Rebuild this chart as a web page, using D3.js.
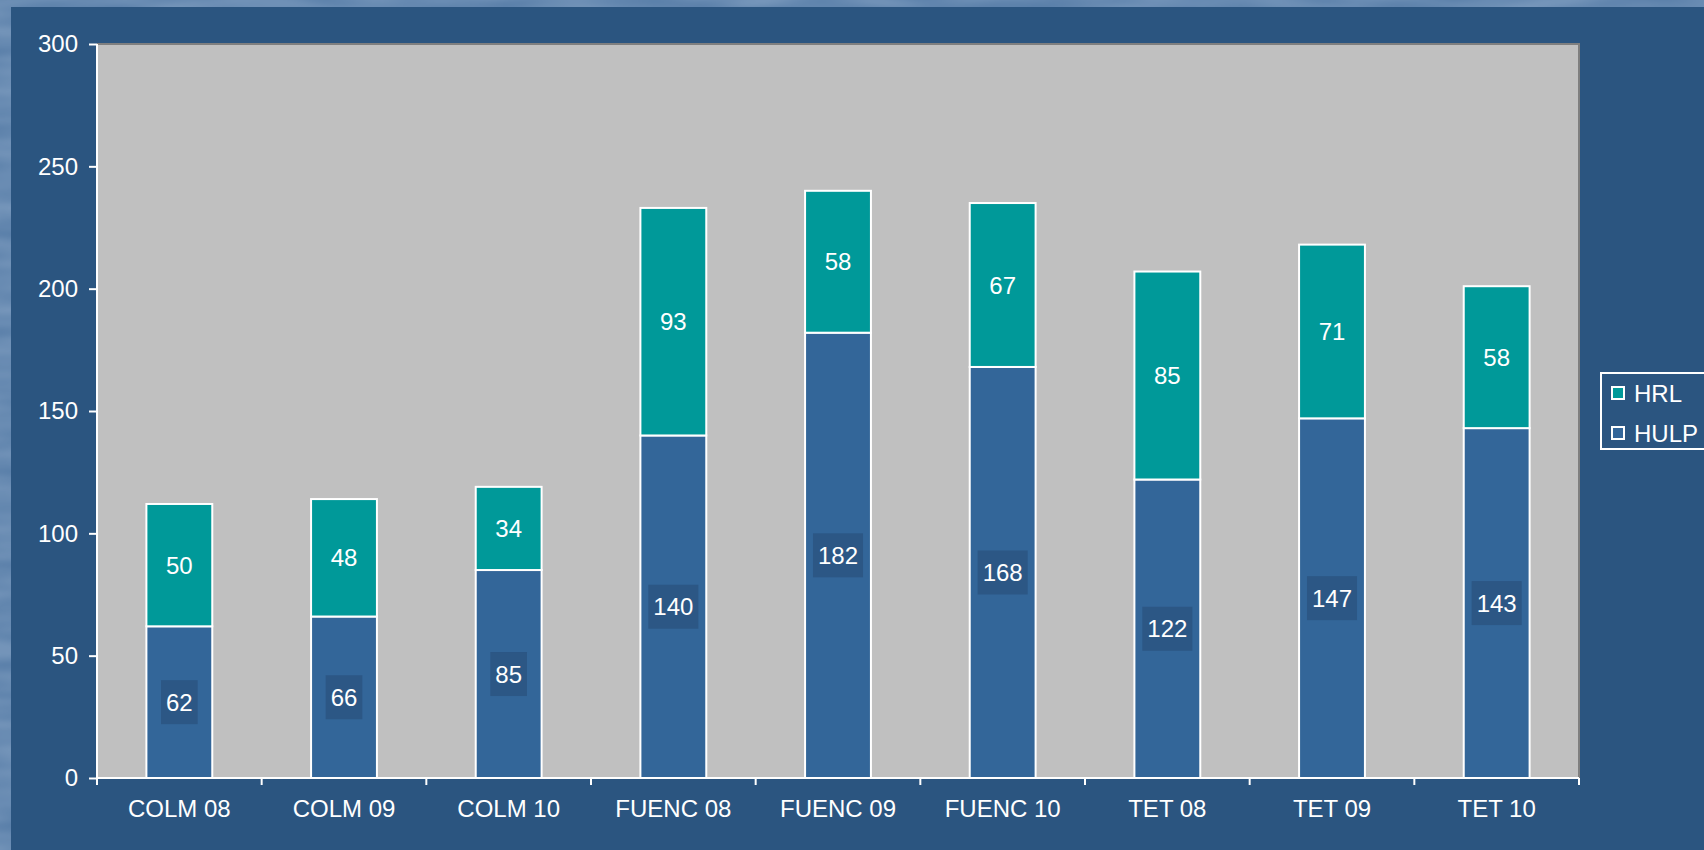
<!DOCTYPE html>
<html>
<head>
<meta charset="utf-8">
<script src="https://cdn.jsdelivr.net/npm/d3@7"></script>
<style>
  html, body { margin: 0; padding: 0; background: #2b5580; }
  svg { display: block; font-family: Arial, "Liberation Sans", sans-serif; }
</style>
</head>
<body>
<script>
var categories = ['COLM 08', 'COLM 09', 'COLM 10', 'FUENC 08', 'FUENC 09', 'FUENC 10', 'TET 08', 'TET 09', 'TET 10']
var hulp = [62, 66, 85, 140, 182, 168, 122, 147, 143]
var hrl  = [50, 48, 34, 93, 58, 67, 85, 71, 58]
var seriesNames = ['HULP', 'HRL']
var yTicks = [0, 50, 100, 150, 200, 250, 300]

var W = 1704, H = 850
var plot = { left: 97, top: 44, right: 1579, bottom: 778 }
var colors = { HULP: '#336699', HRL: '#009999' }
var fontSize = 24

var svg = d3.select('body').append('svg').attr('width', W).attr('height', H)

// textured outer background (only the thin top/left strip shows)
var defs = svg.append('defs')
var filt = defs.append('filter').attr('id', 'marble').attr('x', 0).attr('y', 0).attr('width', 1).attr('height', 1)
filt.append('feTurbulence').attr('type', 'fractalNoise').attr('baseFrequency', '0.01 0.05').attr('numOctaves', 2).attr('result', 'n')
filt.append('feColorMatrix').attr('in', 'n').attr('type', 'matrix')
  .attr('values', '0 0 0 0 0.45  0 0 0 0 0.58  0 0 0 0 0.74  0 0 0 1.2 -0.3')
svg.append('rect').attr('width', W).attr('height', H).attr('fill', '#5b80aa')
svg.append('rect').attr('width', W).attr('height', H).attr('filter', 'url(#marble)').attr('opacity', 0.5)
svg.append('rect').attr('x', 11).attr('y', 7).attr('width', W - 11).attr('height', H - 7).attr('fill', '#2b5580')

// plot area
svg.append('rect')
  .attr('x', plot.left).attr('y', plot.top)
  .attr('width', plot.right - plot.left).attr('height', plot.bottom - plot.top)
  .attr('fill', '#c0c0c0')
svg.append('path')
  .attr('d', 'M' + plot.left + ',' + plot.top + 'H' + plot.right + 'V' + plot.bottom)
  .attr('fill', 'none').attr('stroke', '#7f7f7f').attr('stroke-width', 2)

var x = d3.scaleBand().domain(categories).range([plot.left, plot.right]).paddingInner(0.6).paddingOuter(0.3)
var xOuter = d3.scaleBand().domain(categories).range([plot.left, plot.right])
var y = d3.scaleLinear().domain([0, 300]).range([plot.bottom, plot.top])

var rows = categories.map(function (c, i) { return { cat: c, HULP: hulp[i], HRL: hrl[i] } })
var stacked = d3.stack().keys(seriesNames)(rows)

var layers = svg.append('g').selectAll('g').data(stacked).enter().append('g')
  .attr('fill', function (d) { return colors[d.key] })

layers.selectAll('rect').data(function (d) { return d }).enter().append('rect')
  .attr('x', function (d) { return x(d.data.cat) })
  .attr('y', function (d) { return y(d[1]) })
  .attr('width', x.bandwidth())
  .attr('height', function (d) { return y(d[0]) - y(d[1]) })
  .attr('stroke', '#ffffff').attr('stroke-width', 2)

// axes
var yAxis = svg.append('g').attr('transform', 'translate(' + plot.left + ',0)')
  .call(d3.axisLeft(y).tickValues(yTicks).tickSize(8).tickPadding(11))
var xAxis = svg.append('g').attr('transform', 'translate(0,' + plot.bottom + ')')
  .call(d3.axisBottom(xOuter).tickSize(0).tickPadding(22))
xAxis.selectAll('.tick line').remove()
xAxis.append('g').selectAll('line')
  .data(categories.concat(['end']))
  .enter().append('line')
  .attr('x1', function (d, i) { return plot.left + i * xOuter.bandwidth() })
  .attr('x2', function (d, i) { return plot.left + i * xOuter.bandwidth() })
  .attr('y1', 0).attr('y2', 7)
  .attr('stroke', '#ffffff').attr('stroke-width', 2)

;[yAxis, xAxis].forEach(function (a) {
  a.select('.domain').attr('stroke', '#ffffff').attr('stroke-width', 2)
  a.selectAll('.tick line').attr('stroke', '#ffffff').attr('stroke-width', 2)
  a.selectAll('text').attr('fill', '#ffffff').attr('font-size', fontSize).attr('font-family', 'Arial, "Liberation Sans", sans-serif')
})
yAxis.select('.domain').attr('d', 'M0,' + plot.top + 'V' + plot.bottom)
xAxis.select('.domain').attr('d', 'M' + plot.left + ',0H' + plot.right)

// value labels
var labels = svg.append('g')
stacked.forEach(function (layer) {
  layer.forEach(function (d) {
    var cx = x(d.data.cat) + x.bandwidth() / 2
    var cy = y((d[0] + d[1]) / 2)
    var g = labels.append('g')
    var t = g.append('text')
      .attr('x', cx).attr('y', cy)
      .attr('text-anchor', 'middle').attr('dy', '0.36em')
      .attr('fill', '#ffffff').attr('font-size', fontSize)
      .text(d.data[layer.key])
    if (layer.key === 'HULP') {
      var bb = t.node().getBBox()
      g.insert('rect', 'text')
        .attr('x', bb.x - 5).attr('y', cy - 22)
        .attr('width', bb.width + 10).attr('height', 44)
        .attr('fill', '#2c5785')
    }
  })
})

// legend
var legend = svg.append('g').attr('transform', 'translate(1601,373)')
legend.append('rect').attr('width', 120).attr('height', 76)
  .attr('fill', 'none').attr('stroke', '#ffffff').attr('stroke-width', 2)
seriesNames.slice().reverse().forEach(function (k, i) {
  var row = legend.append('g').attr('transform', 'translate(11,' + (20 + i * 40) + ')')
  row.append('rect').attr('x', 0).attr('y', -6).attr('width', 12).attr('height', 12)
    .attr('fill', colors[k]).attr('stroke', '#ffffff').attr('stroke-width', 2)
  row.append('text').attr('x', 22).attr('dy', '0.36em')
    .attr('fill', '#ffffff').attr('font-size', fontSize).text(k)
})
</script>
</body>
</html>
